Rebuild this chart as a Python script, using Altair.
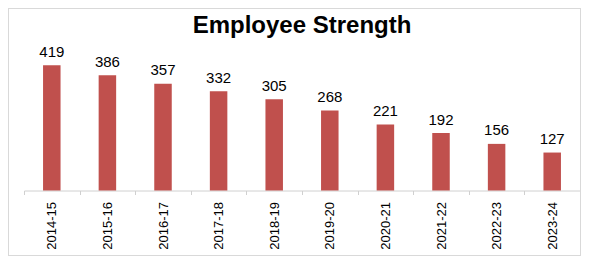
import altair as alt
import pandas as pd

years = ["2014-15", "2015-16", "2016-17", "2017-18", "2018-19",
         "2019-20", "2020-21", "2021-22", "2022-23", "2023-24"]
employees = [419, 386, 357, 332, 305, 268, 221, 192, 156, 127]
chart_title = "Employee Strength"

df = pd.DataFrame({"year": years, "employees": employees})

FONT = "Liberation Sans"

x = alt.X("year:N", sort=years, title=None,
          scale=alt.Scale(paddingInner=0, paddingOuter=0),
          axis=alt.Axis(labelAngle=270, labelAlign="right", labelBaseline="middle",
                        labelFont=FONT, labelFontSize=13, labelColor="#000000",
                        labelPadding=7, tickSize=4, tickBand="extent",
                        domainColor="#d0d0d0", tickColor="#d0d0d0", grid=False))
y = alt.Y("employees:Q", title=None,
          scale=alt.Scale(domain=[0, 440], nice=False), axis=None)

bars = alt.Chart(df).mark_bar(size=17.5, color="#c0504d").encode(x=x, y=y)

labels = alt.Chart(df).mark_text(font=FONT, fontSize=15, color="#000000",
                                 baseline="alphabetic", dy=-8.5).encode(
    x=x, y=y, text="employees:Q")

border = alt.Chart(df).mark_rect(fill=None, stroke="#d9d9d9", strokeWidth=1).encode(
    x=alt.value(-15.5), x2=alt.value(556.5), y=alt.value(-50.5), y2=alt.value(196.5))

title = alt.Chart(pd.DataFrame({"t": [chart_title]})).mark_text(
    font=FONT, fontSize=24, fontWeight="bold", color="#000000",
    align="center", baseline="alphabetic").encode(
    x=alt.value(278), y=alt.value(-26), text="t:N")

chart = alt.layer(border, bars, labels, title).properties(
    width=556, height=131.5,
    autosize=alt.AutoSizeParams(type="none"),
    padding={"left": 16, "top": 51, "right": 1, "bottom": 65},
).configure(background="white").configure_view(stroke="transparent", strokeWidth=0)

chart.save("out.html", embed_options={"renderer": "svg", "actions": False})
